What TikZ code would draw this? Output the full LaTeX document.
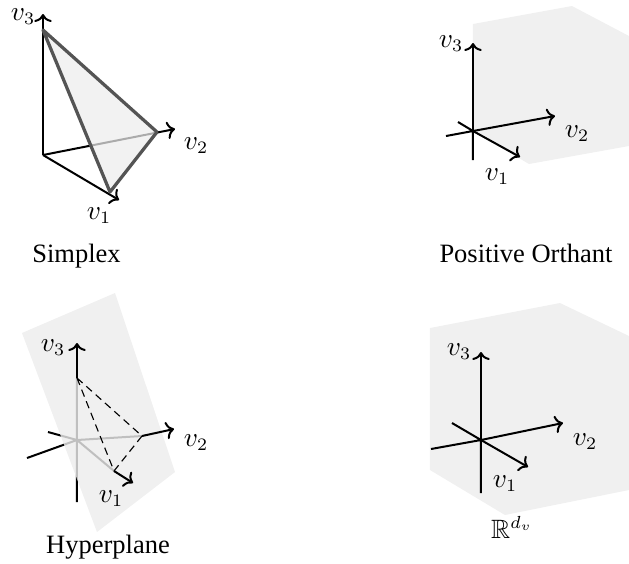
\documentclass[tikz,border=0pt]{standalone}
\usepackage{amssymb}
\usepackage{fontspec}
\setmainfont{Liberation Serif}
\usetikzlibrary{arrows.meta}
\definecolor{simfill}{gray}{0.93}
\definecolor{planefill}{gray}{0.925}
\definecolor{regionfill}{gray}{0.94}
\definecolor{edgegray}{gray}{0.33}
\begin{document}
\begin{tikzpicture}[x=0.4pt,y=-0.4pt,
  axis/.style={line width=0.8pt,black},
  arr/.style={axis,-{To[length=3.2pt,width=7pt]}},
  lab/.style={font=\fontsize{10.6}{12}\selectfont,inner sep=0pt},
  title/.style={font=\fontsize{10.6}{12}\selectfont,inner sep=0pt,anchor=base},
  simedge/.style={line width=1.3pt,edgegray,line join=round},
  dashedge/.style={line width=0.45pt,black,dash pattern=on 3pt off 2pt},
  region/.style={fill=regionfill,draw=none}]
\useasboundingbox (0,0) rectangle (629,563);

% ---------------- Simplex ----------------
\coordinate (sO) at (43,155);
\coordinate (s1t) at (119,200);
\coordinate (s2t) at (175,129);
\coordinate (s3t) at (43,14);
\coordinate (s1) at (110,192);
\coordinate (s2) at (157,132);
\coordinate (s3) at (43,30);
\draw[arr] (sO) -- (s1t);
\draw[arr] (sO) -- (s2t);
\draw[arr] (sO) -- (s3t);
\fill[simfill,fill opacity=0.72] (s1) -- (s2) -- (s3) -- cycle;
\draw[simedge] (s1) -- (s2) -- (s3) -- cycle;
\node[lab] (sl1) at (99,216) {$v_1$};
\node[lab] (sl2) at (196,146) {$v_2$};
\node[lab] (sl3) at (23,17) {$v_3$};
\node[title] (st) at (76.5,262) {Simplex};

% ---------------- Positive Orthant ----------------
\fill[region] (473,131) -- (473,24) -- (572,6) -- (629,36) -- (629,146) -- (529,164) -- cycle;
\coordinate (pO) at (473,131);
\coordinate (p1t) at (520,157);
\coordinate (p2t) at (555,116);
\coordinate (p3t) at (473,43);
\coordinate (p1n) at (458,122);
\coordinate (p2n) at (446,136);
\coordinate (p3n) at (473,160);
\draw[axis] (p1n) -- (pO) (p2n) -- (pO) (p3n) -- (pO);
\draw[arr] (pO) -- (p1t);
\draw[arr] (pO) -- (p2t);
\draw[arr] (pO) -- (p3t);
\node[lab] (pl1) at (497,177) {$v_1$};
\node[lab] (pl2) at (577,134) {$v_2$};
\node[lab] (pl3) at (451,44) {$v_3$};
\node[title] (pt) at (526,262) {Positive Orthant};

% ---------------- Hyperplane ----------------
\coordinate (hO) at (77,440);
\coordinate (h1t) at (133,483);
\coordinate (h2t) at (174,429);
\coordinate (h3t) at (77,343);
\coordinate (h1) at (114,471);
\coordinate (h2) at (142,436);
\coordinate (h3) at (77,378);
\coordinate (h1n) at (48,432);
\coordinate (h2n) at (27,458);
\coordinate (h3n) at (77,502);
\draw[axis] (h1n) -- (hO) (h2n) -- (hO) (h3n) -- (hO);
\draw[axis] (hO) -- (h1) (hO) -- (h2) (hO) -- (h3);
\fill[planefill,fill opacity=0.81] (22,333) -- (115,293) -- (175,472) -- (97,532) -- cycle;
\draw[arr] (h1) -- (h1t);
\draw[arr] (h2) -- (h2t);
\draw[arr] (h3) -- (h3t);
\draw[dashedge] (h3) -- (h1) (h3) -- (h2) (h2) -- (h1);
\node[lab] (hl1) at (111,499) {$v_1$};
\node[lab] (hl2) at (196,443) {$v_2$};
\node[lab] (hl3) at (53,348) {$v_3$};
\node[title] (ht) at (108,553) {Hyperplane};

% ---------------- R^d ----------------
\fill[region] (430,328) -- (560,303) -- (629,336) -- (629,490) -- (505,515) -- (430,470) -- cycle;
\coordinate (rO) at (481,440);
\coordinate (r1t) at (528,467);
\coordinate (r2t) at (563,423);
\coordinate (r3t) at (481,352);
\coordinate (r1n) at (452,423);
\coordinate (r2n) at (431,449);
\coordinate (r3n) at (481,493);
\draw[axis] (r1n) -- (rO) (r2n) -- (rO) (r3n) -- (rO);
\draw[arr] (rO) -- (r1t);
\draw[arr] (rO) -- (r2t);
\draw[arr] (rO) -- (r3t);
\node[lab] (rl1) at (505,484) {$v_1$};
\node[lab] (rl2) at (585,442) {$v_2$};
\node[lab] (rl3) at (459,352) {$v_3$};
\node[title] (rt) at (512,538) {$\mathbb{R}^{d_v}$};
\end{tikzpicture}
\end{document}
